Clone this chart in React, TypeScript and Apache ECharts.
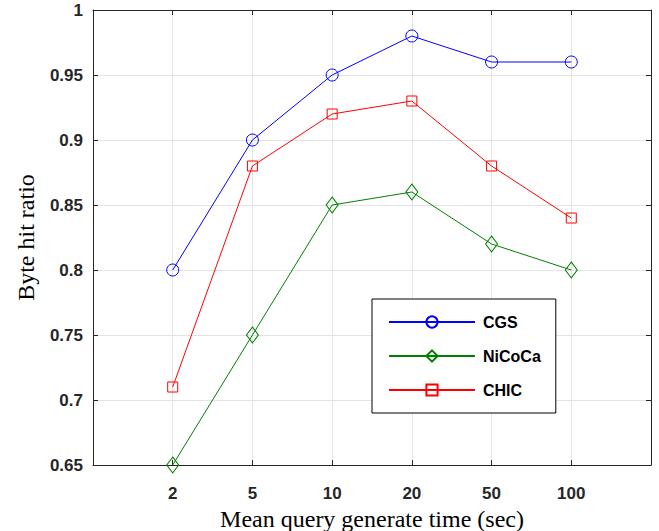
import React, { useEffect, useRef } from "react";
import * as echarts from "echarts";

const xLabels = ["2", "5", "10", "20", "50", "100"];
const cgs = [0.8, 0.9, 0.95, 0.98, 0.96, 0.96];
const nicoca = [0.65, 0.75, 0.85, 0.86, 0.82, 0.8];
const chic = [0.71, 0.88, 0.92, 0.93, 0.88, 0.84];
const seriesNames = ["CGS", "NiCoCa", "CHIC"];

const axisColor = "#262626";
const gridColor = "#e3e3e3";
const tickFont = { fontFamily: "Liberation Sans, Arial, sans-serif", fontWeight: "bold" as const, fontSize: 17, color: "#262626" };
const titleFont = { fontFamily: "Liberation Serif, Times New Roman, serif", fontSize: 24, color: "#000" };

function toPoints(vals: number[]) {
  return vals.map((v, i) => [i + 1, v]);
}

function makeSeries(name: string, vals: number[], color: string, symbol: string, size: number | number[]) {
  return {
    name,
    type: "line",
    data: toPoints(vals),
    symbol,
    symbolSize: size,
    showAllSymbol: true,
    lineStyle: { color, width: 1 },
    itemStyle: { color: "rgba(255,255,255,0)", borderColor: color, borderWidth: 1 },
    emphasis: { disabled: true },
  };
}

export default function App() {
  const ref = useRef<HTMLDivElement>(null);
  useEffect(() => {
    const chart = echarts.init(ref.current!, null, { renderer: "svg" });
    const xBase = {
      type: "value",
      min: 0,
      max: 7,
      interval: 1,
      axisLine: { show: true, onZero: false, lineStyle: { color: axisColor, width: 1 } },
      axisTick: { show: true, inside: true, length: 5, lineStyle: { color: axisColor } },
    };
    const yBase = {
      type: "value",
      min: 0.65,
      max: 1,
      interval: 0.05,
      axisLine: { show: true, onZero: false, lineStyle: { color: axisColor, width: 1 } },
      axisTick: { show: true, inside: true, length: 5, lineStyle: { color: axisColor } },
    };
    chart.setOption({
      animation: false,
      backgroundColor: "#fff",
      grid: { left: 93, right: 8, top: 10, bottom: 66, containLabel: false, outerBoundsMode: "none" },
      xAxis: [
        {
          ...xBase,
          position: "bottom",
          name: "Mean query generate time (sec)",
          nameLocation: "middle",
          nameGap: 37,
          nameTextStyle: titleFont,
          axisLabel: {
            ...tickFont,
            margin: 20,
            formatter: (v: number) => (v >= 1 && v <= xLabels.length ? xLabels[v - 1] : ""),
          },
          splitLine: { show: true, lineStyle: { color: gridColor, width: 1 } },
        },
        {
          ...xBase,
          position: "top",
          axisLabel: { show: false },
          splitLine: { show: false },
        },
      ],
      yAxis: [
        {
          ...yBase,
          position: "left",
          name: "Byte hit ratio",
          nameLocation: "middle",
          nameGap: 55,
          nameTextStyle: titleFont,
          axisLabel: {
            ...tickFont,
            margin: 10,
            formatter: (v: number) => String(parseFloat(v.toFixed(2))),
          },
          splitLine: { show: true, lineStyle: { color: gridColor, width: 1 } },
        },
        {
          ...yBase,
          position: "right",
          axisLabel: { show: false },
          splitLine: { show: false },
        },
      ],
      legend: {
        data: seriesNames,
        orient: "vertical",
        left: 372,
        top: 299,
        padding: [15, 15, 15, 16],
        itemWidth: 86,
        itemHeight: 14,
        itemGap: 18,
        borderColor: "#000",
        borderWidth: 1,
        backgroundColor: "#fff",
        textStyle: { ...tickFont, fontSize: 16, color: "#000", padding: [0, 0, 0, 3] },
      },
      series: [
        makeSeries(seriesNames[0], cgs, "#0000ff", "circle", 12),
        makeSeries(seriesNames[1], nicoca, "#008000", "diamond", [12, 16]),
        makeSeries(seriesNames[2], chic, "#ff0000", "rect", 10),
      ],
    });
    return () => chart.dispose();
  }, []);
  return <div ref={ref} style={{ width: 659, height: 531, position: "absolute", left: 0, top: 0 }} />;
}
